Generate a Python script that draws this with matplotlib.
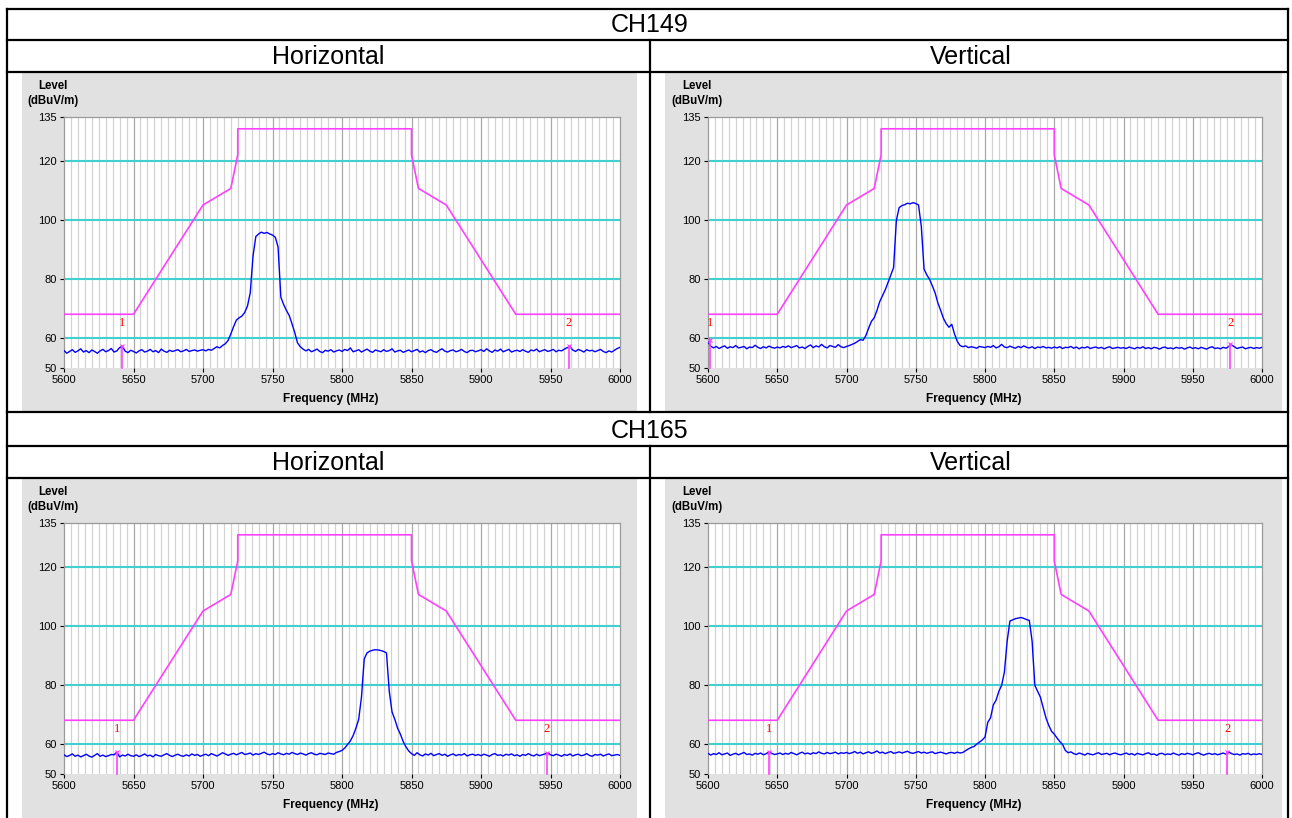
import numpy as np
import matplotlib.pyplot as plt
from matplotlib.patches import Rectangle

plt.rcParams['font.family'] = ['Liberation Sans', 'DejaVu Sans']

W, H = 1292, 818

# sweep points (MHz), 2 MHz step
freq = np.arange(5600, 6001, 2)

# limit mask (dBuV/m)
limit_f = [5600, 5650, 5700, 5720, 5725, 5725, 5850, 5850, 5855, 5875, 5925, 6000]
limit_v = [68.2, 68.2, 105.2, 110.8, 122.2, 131.0, 131.0, 122.2, 110.8, 105.2, 68.2, 68.2]

# CH149 horizontal
h149 = [55.9, 55.0, 55.6, 56.2, 55.3, 55.8, 56.5, 55.4, 55.9, 55.2, 56.1, 55.6, 55.0, 55.8, 56.3, 55.5, 55.9, 56.6, 55.4, 55.8, 56.9, 57.4, 55.7, 55.2, 56.0,
        55.6, 55.1, 55.8, 56.2, 55.4, 55.7, 56.3, 55.5, 55.9, 55.2, 56.4, 55.7, 55.3, 56.0, 55.6, 55.9, 56.2, 55.5, 55.8, 56.3, 55.6, 55.9, 56.1, 55.7, 56.0,
        56.2, 55.8, 56.3, 56.0, 56.6, 57.2, 56.8, 57.6, 58.2, 59.3, 61.5, 64.0, 66.2, 67.0, 67.6, 68.8, 71.0, 75.5, 88.0, 94.5, 95.4, 96.0, 95.6, 95.9, 95.4,
        95.0, 94.3, 91.0, 74.0, 71.5, 69.5, 67.8, 65.0, 62.0, 58.5, 57.2, 56.4, 55.8, 56.3, 55.5, 55.9, 56.4, 55.6, 55.2, 56.0, 55.7, 56.2, 55.4, 55.8, 56.1,
        55.6, 56.3, 55.9, 56.8, 55.5, 55.8, 56.2, 55.4, 55.9, 56.4, 55.7, 55.3, 56.1, 55.8, 55.5, 56.2, 55.6, 55.9, 56.5, 55.4, 55.8, 56.0, 55.3, 55.7, 56.1,
        55.5, 55.9, 56.3, 55.4, 55.8, 55.2, 55.9, 56.2, 55.6, 55.3, 56.0, 56.5, 55.7, 55.4, 55.9, 56.1, 55.5, 55.8, 56.3, 55.6, 55.2, 55.9, 56.0, 55.5, 55.8,
        56.2, 55.6, 56.5, 55.8, 55.3, 56.1, 55.7, 56.4, 55.5, 55.9, 56.3, 55.4, 55.8, 56.0, 55.6, 56.2, 55.7, 55.3, 56.1, 55.8, 56.4, 55.5, 55.9, 56.2, 55.6,
        55.9, 56.3, 55.5, 56.0, 55.8, 56.4, 56.9, 57.2, 56.1, 55.6, 56.3, 55.9, 55.4, 56.2, 55.8, 56.0, 55.5, 55.9, 56.3, 55.6, 55.2, 55.8, 55.4, 56.0, 56.6,
        57.0]

# CH149 vertical
v149 = [58.8, 57.4, 56.8, 57.3, 56.6, 57.1, 57.5, 56.7, 57.2, 56.9, 57.6, 56.8, 57.0, 57.3, 56.5, 57.1, 56.9, 57.7, 57.0, 56.6, 57.2, 56.8, 57.4, 57.0, 56.7,
        57.1, 56.8, 57.3, 57.0, 57.5, 56.9, 57.2, 57.6, 56.8, 57.1, 56.6, 57.3, 57.8, 56.9, 57.5, 57.1, 58.0, 57.2, 56.8, 57.6, 57.3, 57.0, 57.9, 57.2, 56.9,
        57.3, 57.6, 58.0, 58.4, 59.0, 59.6, 59.4, 61.0, 63.5, 65.8, 67.0, 69.5, 72.5, 74.5, 76.5, 79.0, 81.5, 84.0, 100.0, 104.3, 105.0, 105.3, 105.8, 105.6, 106.0,
        105.7, 105.2, 98.0, 83.5, 81.5, 80.0, 77.8, 75.4, 72.0, 69.5, 66.8, 65.0, 63.8, 64.8, 61.5, 59.0, 57.6, 57.2, 57.5, 56.9, 57.2, 57.0, 56.7, 57.3, 57.1,
        56.9, 57.3, 57.0, 57.6, 56.8, 57.2, 58.0, 57.1, 56.9, 57.4, 57.0, 56.7, 57.3, 56.9, 57.5, 57.0, 56.8, 57.2, 56.6, 57.1, 56.9, 57.3, 56.8, 57.0, 56.7,
        57.1, 56.8, 57.2, 56.6, 57.0, 56.9, 57.3, 56.7, 57.1, 56.5, 57.0, 56.8, 57.2, 56.6, 56.9, 57.1, 56.7, 57.0, 56.5, 56.9, 57.2, 56.6, 56.8, 57.0, 56.7,
        56.9, 56.6, 57.1, 56.8, 56.5, 57.0, 56.7, 57.2, 56.6, 56.9, 56.5, 57.0, 56.8, 56.4, 56.9, 57.1, 56.6, 56.8, 56.5, 57.0, 56.7, 56.9, 56.4, 56.8, 57.1,
        56.6, 56.9, 56.5, 57.0, 56.7, 56.4, 56.9, 57.2, 56.6, 56.8, 56.5, 57.0, 56.7, 57.3, 57.8, 57.2, 56.6, 56.9, 57.1, 56.5, 56.8, 57.0, 56.6, 56.9, 56.7,
        57.0]

# CH165 horizontal
h165 = [56.5, 55.9, 56.3, 56.8, 56.0, 56.4, 55.8, 56.2, 56.7, 56.1, 55.7, 56.3, 56.9, 56.0, 56.4, 55.9, 56.2, 56.6, 56.5, 57.4, 55.8, 56.4, 56.1, 56.7, 56.2,
        56.0, 56.5, 55.9, 56.3, 56.8, 56.1, 56.4, 55.8, 56.6, 56.2, 56.0, 56.5, 56.9, 56.3, 55.9, 56.4, 56.7, 56.2, 56.0, 56.5, 56.1, 56.8, 56.3, 56.6, 56.0,
        56.4, 56.7, 56.2, 56.9, 56.5, 56.1, 56.6, 57.2, 56.8, 56.3, 56.7, 57.0, 56.5, 56.9, 57.3, 56.6, 56.8, 57.1, 56.4, 56.9, 56.6, 57.0, 57.4, 56.8, 56.5,
        56.9, 56.6, 57.2, 56.8, 56.5, 57.0, 56.7, 57.3, 56.9, 56.6, 57.1, 56.8, 56.4, 56.9, 57.2, 56.7, 56.5, 57.0, 56.8, 56.6, 57.1, 56.9, 56.7, 57.3, 57.6,
        58.0, 58.8, 60.0, 61.2, 63.0, 65.5, 68.5, 76.0, 89.0, 91.0, 91.6, 91.9, 92.1, 92.0, 91.8, 91.5, 91.0, 78.0, 71.0, 68.5, 65.5, 63.5, 61.0, 59.2, 57.8,
        56.9, 56.3, 57.2, 56.5, 56.1, 56.8, 56.4, 57.0, 56.2, 56.6, 56.9, 56.3, 56.7, 56.0, 56.5, 56.8, 56.2, 56.6, 56.4, 56.9, 56.1, 56.5, 56.7, 56.3, 56.6,
        56.2, 56.7, 56.4, 56.0, 56.6, 56.9, 56.3, 56.5, 56.1, 56.7, 56.4, 56.8, 56.2, 56.5, 56.0, 56.6, 56.3, 56.9, 56.4, 56.1, 56.7, 56.2, 56.5, 56.8, 57.2,
        56.5, 56.2, 56.7, 56.4, 56.0, 56.6, 56.3, 56.8, 56.1, 56.5, 56.7, 56.2, 56.4, 56.9, 56.3, 56.0, 56.6, 56.4, 56.7, 56.1, 56.5, 56.8, 56.2, 56.4, 56.6,
        56.3]

# CH165 vertical
v165 = [57.0, 56.4, 56.9, 56.6, 57.2, 56.5, 56.8, 57.1, 56.3, 56.7, 57.0, 56.5, 56.9, 57.3, 56.6, 56.8, 56.4, 57.0, 56.7, 57.1, 56.5, 56.9, 57.4, 57.0, 56.6,
        56.8, 57.1, 56.6, 57.0, 56.7, 57.3, 56.9, 56.5, 57.0, 57.4, 56.8, 57.1, 56.7, 57.2, 56.9, 57.5, 57.0, 56.8, 57.3, 56.9, 57.1, 57.4, 56.8, 57.2, 57.0,
        57.3, 56.9, 57.2, 57.6, 57.0, 57.4, 56.8, 57.2, 57.5, 57.0, 57.3, 57.8, 57.1, 57.4, 56.9, 57.3, 57.6, 57.0, 57.2, 57.5, 57.1, 57.4, 57.7, 57.2, 57.0,
        57.3, 57.6, 57.1, 57.4, 57.0, 57.3, 57.5, 56.9, 57.2, 57.4, 57.1, 56.8, 57.2, 57.3, 57.0, 57.4, 57.1, 57.3, 57.9, 58.5, 59.0, 59.3, 60.1, 60.8, 61.5,
        62.5, 67.5, 69.0, 73.4, 75.0, 78.0, 80.0, 84.5, 95.0, 101.8, 102.2, 102.6, 102.8, 103.0, 102.7, 102.3, 102.0, 95.0, 80.0, 78.0, 76.0, 72.5, 69.0, 66.5, 64.5,
        63.5, 62.2, 61.0, 60.0, 58.0, 57.2, 57.5, 56.9, 56.6, 57.1, 56.8, 56.4, 57.0, 56.7, 56.5, 56.9, 57.2, 56.6, 56.8, 57.0, 56.5, 56.9, 57.1, 56.7, 56.5,
        56.8, 57.1, 56.6, 56.9, 56.4, 57.0, 56.7, 56.5, 56.9, 57.2, 56.6, 56.8, 56.3, 56.9, 57.0, 56.5, 56.8, 56.6, 57.1, 56.7, 56.4, 56.9, 56.6, 57.0, 56.8,
        56.5, 56.9, 57.2, 56.7, 56.4, 56.8, 57.0, 56.6, 56.9, 56.5, 56.8, 57.1, 56.7, 57.5, 56.9, 56.6, 56.8, 56.4, 56.9, 56.7, 57.0, 56.5, 56.8, 56.6, 56.9,
        56.6]

# markers (MHz, dBuV/m)
h149_mk = [5642, 5963]
h149_mk_lvl = [57.6, 57.4]
v149_mk = [5601.5, 5977]
v149_mk_lvl = [59.5, 58.0]
h165_mk = [5638, 5947.5]
h165_mk_lvl = [57.4, 57.2]
v165_mk = [5644, 5975]
v165_mk_lvl = [57.4, 57.5]

x_ticks = [5600, 5650, 5700, 5750, 5800, 5850, 5900, 5950, 6000]
y_ticks = [50, 60, 80, 100, 120, 135]
cyan_levels = [60, 80, 100, 120]

fig = plt.figure(figsize=(W / 100, H / 100), dpi=100)
bg = fig.add_axes([0, 0, 1, 1])
bg.set_xlim(0, W)
bg.set_ylim(H, 0)
bg.axis('off')


def px_axes(x0, y0, x1, y1):
    return fig.add_axes([x0 / W, 1 - y1 / H, (x1 - x0) / W, (y1 - y0) / H])


# table frame
lw_tab = 1.6
for y in [9, 40, 72, 412, 446, 478]:
    bg.plot([7, 1288], [y, y], color='black', lw=lw_tab)
bg.plot([7, 7], [9, 818], color='black', lw=lw_tab)
bg.plot([1288, 1288], [9, 818], color='black', lw=lw_tab)
bg.plot([650, 650], [40, 412], color='black', lw=lw_tab)
bg.plot([650, 650], [446, 818], color='black', lw=lw_tab)

bg.text(650, 25, 'CH149', ha='center', va='center', fontsize=18)
bg.text(650, 431, 'CH165', ha='center', va='center', fontsize=18)
for yy in [57, 463]:
    bg.text(328, yy, 'Horizontal', ha='center', va='center', fontsize=18)
    bg.text(971, yy, 'Vertical', ha='center', va='center', fontsize=18)

gray_boxes = [(22, 73, 637, 411), (665, 73, 1282, 411), (22, 479, 637, 818), (665, 479, 1282, 818)]
plot_boxes = [(64, 117, 620, 368), (708, 117, 1262, 368), (64, 523, 620, 774), (708, 523, 1262, 774)]
traces = [h149, v149, h165, v165]
mk_list = [(h149_mk, h149_mk_lvl), (v149_mk, v149_mk_lvl), (h165_mk, h165_mk_lvl), (v165_mk, v165_mk_lvl)]

for gb, pb, tr, (mkf, mkl) in zip(gray_boxes, plot_boxes, traces, mk_list):
    bg.add_patch(Rectangle((gb[0], gb[1]), gb[2] - gb[0], gb[3] - gb[1], color='#e1e1e1', lw=0))
    bg.text(pb[0] - 11, pb[1] - 31, 'Level', ha='center', va='center', fontsize=8.3, fontweight='bold')
    bg.text(pb[0] - 11, pb[1] - 16, '(dBuV/m)', ha='center', va='center', fontsize=8.3, fontweight='bold')
    bg.text((pb[0] + pb[2]) / 2 - 11, pb[3] + 31, 'Frequency (MHz)', ha='center', va='center',
            fontsize=8.6, fontweight='bold')

    ax = px_axes(*pb)
    ax.set_facecolor('white')
    ax.set_xlim(5600, 6000)
    ax.set_ylim(50, 135)
    for f in np.arange(5605, 6000, 5):
        if f % 50:
            ax.axvline(f, color='#d2d2d2', lw=0.9, zorder=1)
        else:
            ax.axvline(f, color='#a8a8a8', lw=0.9, zorder=1)
    for lv in cyan_levels:
        ax.axhline(lv, color='#40d0d0', lw=1.5, zorder=2)
    ax.plot(limit_f, limit_v, color='#ff40ff', lw=1.2, zorder=3)
    ax.plot(freq, tr, color='#0000ff', lw=1.0, zorder=4)
    for i, (mf, ml) in enumerate(zip(mkf, mkl)):
        ax.plot([mf, mf], [50, ml], color='#ff40ff', lw=1.2, zorder=5, clip_on=False)
        ax.plot([mf], [ml], marker='x', ms=3.5, mew=0.8, color='#ff40ff', zorder=6)
        ax.text(mf, 65.4, str(i + 1), color='red', ha='center', va='center',
                fontsize=9, family=['Liberation Serif', 'DejaVu Serif'], zorder=6)

    ax.set_xticks(x_ticks)
    ax.set_yticks(y_ticks)
    ax.tick_params(axis='both', labelsize=8, length=3, width=0.8, color='black', pad=2)
    for sp in ['left', 'right', 'top']:
        ax.spines[sp].set_color('#9a9a9a')
        ax.spines[sp].set_linewidth(0.9)
    ax.spines['bottom'].set_visible(False)

fig.savefig('out.png', dpi=100)
